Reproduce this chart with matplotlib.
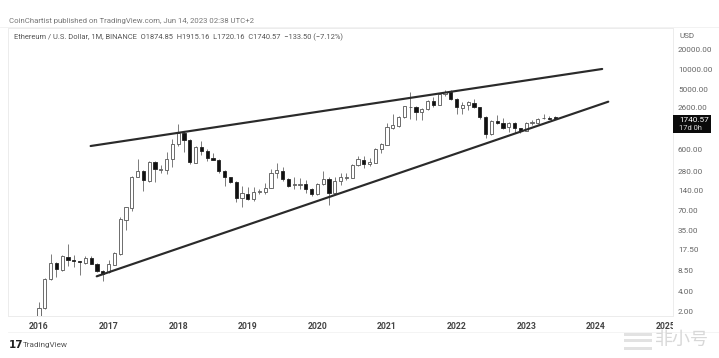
import matplotlib
matplotlib.use("Agg")
import matplotlib.pyplot as plt
from matplotlib.patches import Rectangle
from matplotlib.transforms import Bbox, TransformedBbox
import numpy as np

W, H = 719, 358
plt.rcParams['font.family'] = ['Roboto', 'Noto Sans CJK SC', 'DejaVu Sans']

opens = [1.0, 2.28, 6.2, 11.1, 8.6, 13.8, 12.2, 11.9, 11.1, 13.1, 10.8, 8.4,
         8.0, 10.3, 15, 50, 77, 229, 284, 197, 381, 288, 291, 423,
         725, 1079, 835, 372, 646, 567, 439, 417, 281, 225, 190, 108,
         126, 104, 133, 135, 154, 259, 281, 212, 171, 174, 176, 149,
         124, 178, 212, 128, 199, 219, 219, 347, 417, 360, 376, 602,
         707, 1260, 1367, 1855, 2638, 2638, 2212, 2450, 3330, 2892, 4140, 4473,
         3584, 2546, 2830, 3103, 2638, 1896, 1024, 1629, 1503, 1305, 1518, 1260,
         1157, 1518, 1518, 1780, 1830, 1874.85]
highs = [2.82, 6.4, 15, 11.3, 14.6, 21.5, 14.6, 12, 14, 14, 11, 8.6,
         12.2, 16.2, 56, 80, 237, 423, 290, 392, 397, 347, 542, 855,
         1465, 1158, 860, 676, 814, 602, 527, 423, 291, 228, 194, 165,
         160, 160, 147, 182, 298, 376, 320, 220, 225, 217, 204, 153,
         182, 284, 229, 225, 259, 259, 353, 484, 474, 450, 630, 750,
         1536, 2060, 1960, 2810, 4568, 2720, 2600, 3400, 3780, 4205, 4850, 4850,
         3660, 3213, 3290, 3496, 2670, 1915, 1660, 2010, 1790, 1600, 1590, 1280,
         1600, 1688, 1790, 2060, 1955, 1915.16]
lows = [0.9, 2.18, 6.1, 6.8, 8.4, 10, 9.5, 7.2, 10.8, 10.5, 8.0, 5.9,
        7.7, 10.2, 14.7, 35, 69, 225, 137, 190, 192, 259, 252, 320,
        676, 553, 363, 366, 492, 403, 413, 259, 165, 186, 95, 78,
        101, 98, 124, 124, 152, 217, 199, 158, 147, 149, 131, 116,
        120, 171, 84, 124, 171, 208, 217, 335, 308, 335, 372, 535,
        700, 1215, 1340, 1800, 1730, 1688, 1688, 2410, 2695, 2860, 3990, 3470,
        2100, 2100, 2410, 2620, 1730, 886, 995, 1467, 1219, 1119, 1078, 1078,
        1144, 1400, 1467, 1730, 1730, 1720.16]
closes = [2.24, 6.34, 11.1, 8.9, 14.1, 12.2, 11.7, 11.6, 13.3, 10.8, 8.4, 7.5,
          10.6, 15.8, 51.8, 78, 229, 284, 202, 381, 298, 298, 423, 725,
          1079, 835, 381, 659, 567, 439, 417, 281, 229, 190, 110, 128,
          104, 133, 137, 156, 259, 291, 212, 167, 178, 178, 149, 124,
          178, 212, 128, 199, 225, 225, 347, 423, 355, 381, 608, 725,
          1306, 1415, 1894, 2763, 2695, 2212, 2484, 3330, 2892, 4140, 4473, 3584,
          2638, 2860, 3176, 2695, 1896, 1024, 1629, 1534, 1288, 1503, 1260, 1144,
          1534, 1590, 1730, 1830, 1770, 1740.57]

upper_months = [8.9, 97.1]
upper_prices = [676, 10160]
lower_months = [9.95, 98.15]
lower_prices = [6.9, 3214]

year_labels = ['2016', '2017', '2018', '2019', '2020', '2021', '2022', '2023', '2024', '2025']
price_ticks = [20000, 10000, 5000, 2600, 600, 280, 140, 70, 35, 17.5, 8.5, 4, 2]
price_labels = ['20000.00', '10000.00', '5000.00', '2600.00', '600.00', '280.00', '140.00',
                '70.00', '35.00', '17.50', '8.50', '4.00', '2.00']

fig = plt.figure(figsize=(W / 100, H / 100), dpi=100, facecolor='white')
ax = fig.add_axes([8 / W, 1 - 316 / H, 665 / W, 288 / H])
ax.set_yscale('log')
ax.set_xlim(-5.345, 109.31)
ax.set_ylim(1.708, 42960)

o, h, l, c = map(np.array, (opens, highs, lows, closes))
x = np.arange(len(o))
ax.vlines(x, l, h, color='#666666', lw=0.6, zorder=2)
up = c >= o
ax.bar(x[up], (c - o)[up], bottom=o[up], width=0.52, facecolor='white',
       edgecolor='#555555', lw=0.6, zorder=3)
ax.bar(x[~up], (o - c)[~up], bottom=c[~up], width=0.52, facecolor='#111111',
       edgecolor='#222222', lw=0.6, zorder=3)

ax.plot(upper_months, upper_prices, color='#2a2a2a', lw=1.55, zorder=4, solid_capstyle='round')
ax.plot(lower_months, lower_prices, color='#2a2a2a', lw=1.55, zorder=4, solid_capstyle='round')

for s in ('left', 'right', 'top', 'bottom'):
    ax.spines[s].set_color('#ececec')
    ax.spines[s].set_linewidth(0.7)

ax.set_xticks(np.arange(len(year_labels)) * 12)
ax.set_xticklabels(year_labels, fontsize=6.2, fontweight='bold', color='#444444')
ax.tick_params(axis='x', length=0, pad=4.5)
ax.yaxis.tick_right()
ax.set_yticks(price_ticks)
ax.set_yticklabels(price_labels, fontsize=5.9, color='#666666')
ax.minorticks_off()
ax.tick_params(axis='y', length=0, pad=3.6)

clip = TransformedBbox(Bbox([[0, 0], [673 / W, 1]]), fig.transFigure)
for t in ax.get_xticklabels():
    t.set_clip_box(clip)
    t.set_clip_on(True)


def ftext(px, py, s, **kw):
    fig.text(px / W, 1 - py / H, s, va='center', **kw)


ftext(9, 21, 'CoinChartist published on TradingView.com, Jun 14, 2023 02:38 UTC+2',
      fontsize=5.57, color='#777777')
ftext(13.5, 37, 'Ethereum / U.S. Dollar, 1M, BINANCE  O1874.85  H1915.16  L1720.16  C1740.57  −133.50 (−7.12%)',
      fontsize=5.45, color='#555555')
ftext(680, 36, 'USD', fontsize=5.9, color='#666666')

fig.add_artist(Rectangle((673 / W, 1 - 133 / H), 38 / W, 18 / H, transform=fig.transFigure,
                         facecolor='#0b0b0b', edgecolor='none'))
ftext(679, 120, '1740.57', fontsize=5.9, color='white')
ftext(679, 129, '17d 0h', fontsize=5.4, color='#dddddd')

# bottom strip
fig.add_artist(plt.Line2D([8 / W, 1], [1 - 332 / H] * 2, color='#f3f3f3', lw=0.6))
fig.add_artist(plt.Line2D([0, 1], [1 - 27 / H] * 2, color='#f0f0f0', lw=0.6))
ftext(9, 344.5, '17', fontsize=7.5, fontweight='bold', color='#222222', family='DejaVu Sans')
ftext(23, 344.5, 'TradingView', fontsize=5.9, color='#555555')

# watermark
for yy in (334, 340, 348):
    fig.add_artist(Rectangle((624 / W, 1 - (yy + 1.5) / H), 28 / W, 2.5 / H,
                             transform=fig.transFigure, facecolor='#e2e2e2', edgecolor='none'))
ftext(655, 340, '非小号', fontsize=13, color='#d8d8d8')

fig.savefig('out.png', dpi=100)
